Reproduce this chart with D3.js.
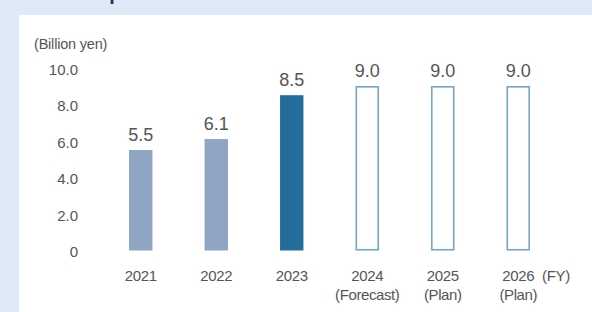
<!DOCTYPE html>
<html>
<head>
<meta charset="utf-8">
<script src="https://cdn.jsdelivr.net/npm/d3@7"></script>
<style>
  html, body { margin: 0; padding: 0; background: #deeaf7; }
  svg { display: block; }
  text { font-family: "Liberation Sans", Arial, Helvetica, sans-serif; }
</style>
</head>
<body>
<svg id="chart" width="592" height="312"></svg>
<script>
const years = ["2021", "2022", "2023", "2024", "2025", "2026"];
const subLabels = ["", "", "", "(Forecast)", "(Plan)", "(Plan)"];
const values = [5.5, 6.1, 8.5, 9.0, 9.0, 9.0];
const barKinds = ["actual", "actual", "latest", "plan", "plan", "plan"];
const yTicks = [0, 2, 4, 6, 8, 10];
const yUnit = "(Billion yen)";
const xUnit = "(FY)";
const title = "R&D expenses";

const svg = d3.select("#chart");

svg.append("rect").attr("x", 0).attr("y", 0).attr("width", 592).attr("height", 312).attr("fill", "#deeaf7");
svg.append("rect").attr("x", 19).attr("y", 15).attr("width", 573).attr("height", 297).attr("fill", "#ffffff");
svg.append("text").attr("x", 38).attr("y", 0).attr("font-size", 20).attr("font-weight", "bold")
  .attr("fill", "#333").text(title);

const x = d3.scaleBand().domain(years).range([103, 556]).paddingInner(0.69).paddingOuter(0.345);
const y = d3.scaleLinear().domain([0, 10]).range([250.5, 67.8]);

// y axis
const yAxis = d3.axisLeft(y).tickValues(yTicks).tickSize(0).tickPadding(0)
  .tickFormat(d => d === 0 ? "0" : d3.format(".1f")(d));
const gy = svg.append("g").attr("transform", "translate(78,1.5)").call(yAxis);
gy.select(".domain").remove();
gy.selectAll("text").attr("font-size", 15).attr("fill", "#555")
  .attr("font-family", "'Liberation Sans', Arial, sans-serif");

svg.append("text").attr("x", 34).attr("y", 48.5).attr("font-size", 14.5).attr("fill", "#555")
  .attr("letter-spacing", -0.2).text(yUnit);

// bars
const colors = { actual: "#90a5c3", latest: "#246d9b", plan: "#ffffff" };
svg.selectAll("rect.bar").data(values).enter().append("rect")
  .attr("class", "bar")
  .attr("x", (d, i) => x(years[i]) + (barKinds[i] === "plan" ? 0.75 : 0))
  .attr("y", (d, i) => y(d) + (barKinds[i] === "plan" ? 0.75 : 0))
  .attr("width", (d, i) => x.bandwidth() - (barKinds[i] === "plan" ? 1.5 : 0))
  .attr("height", (d, i) => y(0) - y(d) - (barKinds[i] === "plan" ? 1.5 : 0))
  .attr("fill", (d, i) => colors[barKinds[i]])
  .attr("stroke", (d, i) => barKinds[i] === "plan" ? "#72a6ca" : "none")
  .attr("stroke-width", 1.6);

// value labels
svg.selectAll("text.val").data(values).enter().append("text")
  .attr("class", "val")
  .attr("x", (d, i) => x(years[i]) + x.bandwidth() / 2)
  .attr("y", d => y(d) - 9.5)
  .attr("text-anchor", "middle").attr("font-size", 18).attr("fill", "#555")
  .text(d => d3.format(".1f")(d));

// category labels
svg.selectAll("text.yr").data(years).enter().append("text")
  .attr("class", "yr")
  .attr("x", d => x(d) + x.bandwidth() / 2)
  .attr("y", 281)
  .attr("text-anchor", "middle").attr("font-size", 15).attr("fill", "#555")
  .attr("letter-spacing", -0.3)
  .text(d => d);
svg.selectAll("text.sub").data(subLabels).enter().append("text")
  .attr("class", "sub")
  .attr("x", (d, i) => x(years[i]) + x.bandwidth() / 2)
  .attr("y", 300)
  .attr("text-anchor", "middle").attr("font-size", 15).attr("fill", "#555")
  .attr("letter-spacing", -0.4)
  .text(d => d);
svg.append("text").attr("x", 542).attr("y", 281).attr("font-size", 15).attr("fill", "#555")
  .attr("letter-spacing", -0.3).text(xUnit);
</script>
</body>
</html>
